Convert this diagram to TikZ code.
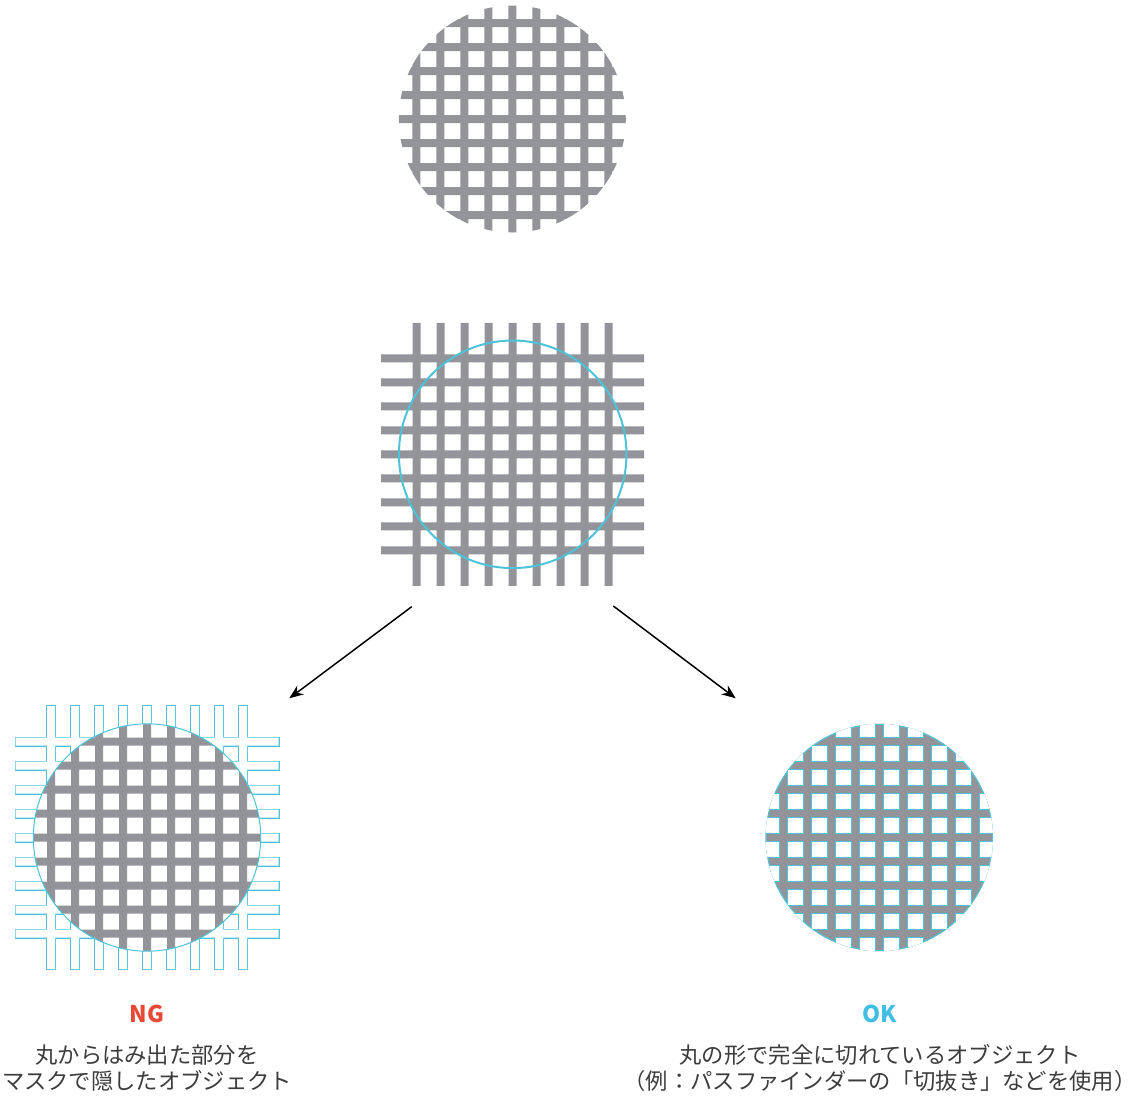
\documentclass[tikz,border=0pt]{standalone}
\usepackage{fontspec}
\setmainfont{Noto Sans CJK JP}
\usetikzlibrary{positioning, arrows.meta}

\definecolor{barg}{RGB}{147,148,153}
\definecolor{cy}{RGB}{77,195,217}
\definecolor{ngred}{RGB}{233,72,52}
\definecolor{okcy}{RGB}{64,190,228}
\definecolor{txt}{RGB}{60,60,60}

\newcommand\bars{\foreach \i in {-96,-72,...,96}{(\i-4,-131.5) rectangle (\i+4,131.5) (-131.5,\i-4) rectangle (131.5,\i+4)}}
\newcommand\holes{\foreach \i in {-116,-92,...,100}{\foreach \j in {-116,-92,...,100}{(\i,\j) rectangle ++(16,16)}}}

\begin{document}
\begin{tikzpicture}[x=1pt, y=-1pt,
        B/.style = {fill=barg},
        R/.style = {draw=cy, line width=2pt},
        arrow/.style = {-{Stealth[length=14pt, width=11pt]}, line width=1.5pt},
        T/.style = {text=txt, align=center, inner sep=0pt, font=\fontsize{22.3}{26}\selectfont},
        L/.style = {inner sep=0pt, font=\fontsize{23}{26}\selectfont\bfseries}
    ]
        \useasboundingbox (0,0) rectangle (1137,1096);

        \coordinate (top) at (512.3,119);
        \coordinate (mid) at (512.7,454.3);
        \coordinate (ng) at (147,837.5);
        \coordinate (ok) at (879.3,837.5);

        \begin{scope}[shift={(top)}]
            \clip (0,0) circle[radius=113.5];
            \fill[B] \bars;
        \end{scope}

        \fill[B, shift={(mid)}] \bars;
        \draw[R] (mid) circle[radius=113.8];

        \begin{scope}[shift={(ng)}]
            \draw[R] \bars;
            \fill[white] \bars;
            \clip (0,0) circle[radius=113.7];
            \fill[white] (0,0) circle[radius=115];
            \fill[B] \bars;
        \end{scope}
        \draw[cy, line width=1pt] (ng) circle[radius=113.7];

        \begin{scope}[shift={(ok)}]
            \clip (0,0) circle[radius=113.7];
            \fill[B] (0,0) circle[radius=115];
            \draw[R] (0,0) circle[radius=113.7];
            \filldraw[fill=white, draw=cy, line width=1pt] \holes;
        \end{scope}

        \coordinate (s1) at (411.7,606.7);
        \coordinate (e1) at (289.3,698.3);
        \coordinate (s2) at (613.3,606);
        \coordinate (e2) at (735.7,698.3);
        \draw[arrow] (s1) -- (e1);
        \draw[arrow] (s2) -- (e2);

        \node[L, text=ngred] (ngl) at (147,1013.5) {NG};
        \node[T, below=22pt of ngl] (ngt) {丸からはみ出た部分を\\マスクで隠したオブジェクト};

        \node[L, text=okcy] (okl) at (880,1013.5) {OK};
        \node[T, below=22pt of okl] (okt) {丸の形で完全に切れているオブジェクト\\（例：パスファインダーの「切抜き」などを使用）};

    \end{tikzpicture}
\end{document}
